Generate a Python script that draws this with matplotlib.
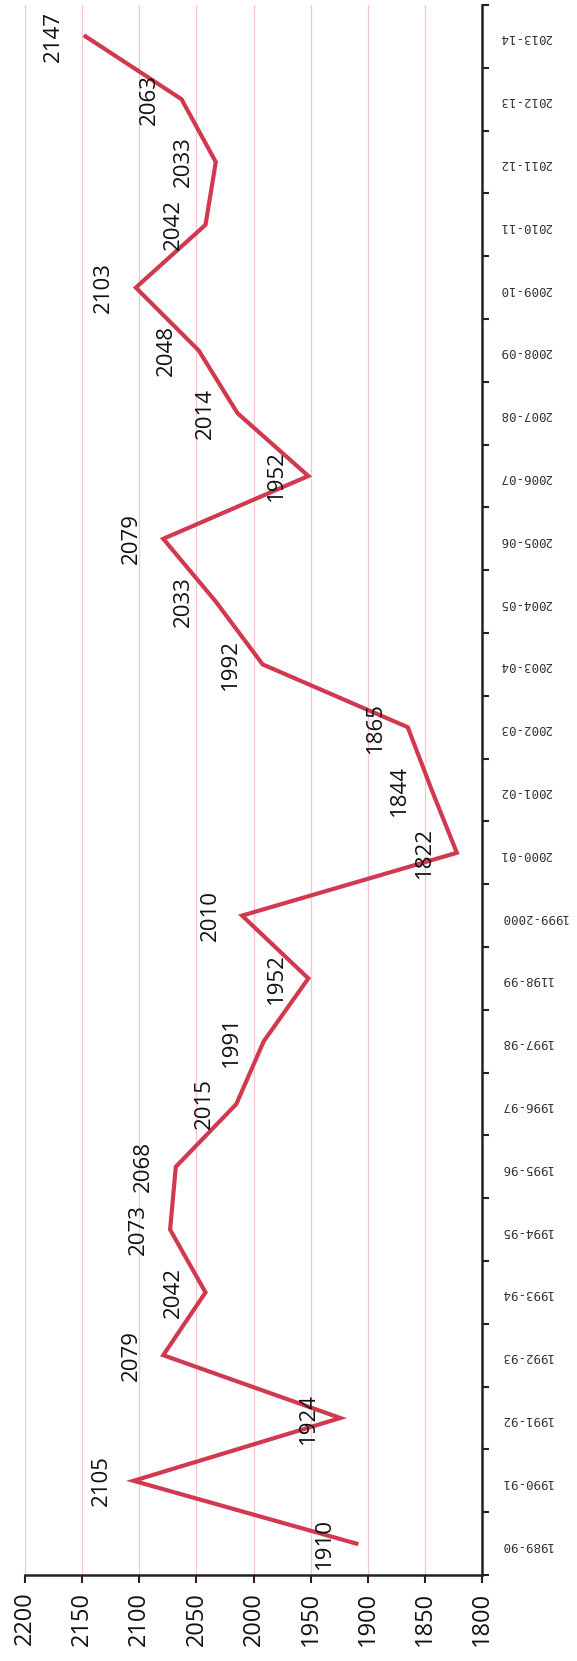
import matplotlib.pyplot as plt
import numpy as np

years = ["1989-90", "1990-91", "1991-92", "1992-93", "1993-94", "1994-95",
         "1995-96", "1996-97", "1997-98", "1198-99", "1999-2000", "2000-01",
         "2001-02", "2002-03", "2003-04", "2004-05", "2005-06", "2006-07",
         "2007-08", "2008-09", "2009-10", "2010-11", "2011-12", "2012-13",
         "2013-14"]
values = [1910, 2105, 1924, 2079, 2042, 2073, 2068, 2015, 1991, 1952,
          2010, 1822, 1844, 1865, 1992, 2033, 2079, 1952, 2014, 2048,
          2103, 2042, 2033, 2063, 2147]
value_ticks = [1800, 1850, 1900, 1950, 2000, 2050, 2100, 2150, 2200]

line_color = "#d0394f"
grid_color = "#f3c6cd"

fig = plt.figure(figsize=(5.77, 16.61), dpi=100)
ax = fig.add_axes([25 / 577, 86 / 1661, 457 / 577, 1570 / 1661])

pos = np.arange(len(years))
ax.plot(values, pos, color=line_color, lw=3, solid_joinstyle="miter", zorder=3)

# data labels sit "above" the points in the original (left after rotation)
for v, p in zip(values, pos):
    ax.annotate(str(v), (v, p), xytext=(-32, 0), textcoords="offset pixels",
                rotation=90, ha="center", va="center", fontsize=16,
                family=["Open Sans", "DejaVu Sans"], color="#111111", zorder=4)

ax.set_xlim(2200, 1800)
ax.set_ylim(-0.5, len(years) - 0.5)

ax.set_xticks(value_ticks)
ax.set_xticklabels([str(t) for t in value_ticks], rotation=90,
                   fontsize=17, family=["Open Sans", "DejaVu Sans"], color="#111111")
ax.tick_params(axis="x", direction="out", length=6, width=1.5, color="#222222", pad=6)
ax.grid(axis="x", color=grid_color, lw=0.9, zorder=0)

ax.yaxis.tick_right()
ax.set_yticks(np.arange(-0.5, len(years), 1.0))
ax.set_yticklabels([])
ax.set_yticks(pos, minor=True)
ax.set_yticklabels(years, minor=True, rotation=180, fontsize=9,
                   family=["DejaVu Sans Mono"], color="#333333")
ax.tick_params(axis="y", which="major", direction="out", length=5, width=1.5,
               color="#222222")
ax.tick_params(axis="y", which="minor", length=0, pad=13)

for s in ["top", "left"]:
    ax.spines[s].set_visible(False)
ax.spines["bottom"].set_linewidth(1.8)
ax.spines["bottom"].set_color("#222222")
ax.spines["right"].set_linewidth(1.8)
ax.spines["right"].set_color("#222222")

fig.savefig("out.png", dpi=100)
